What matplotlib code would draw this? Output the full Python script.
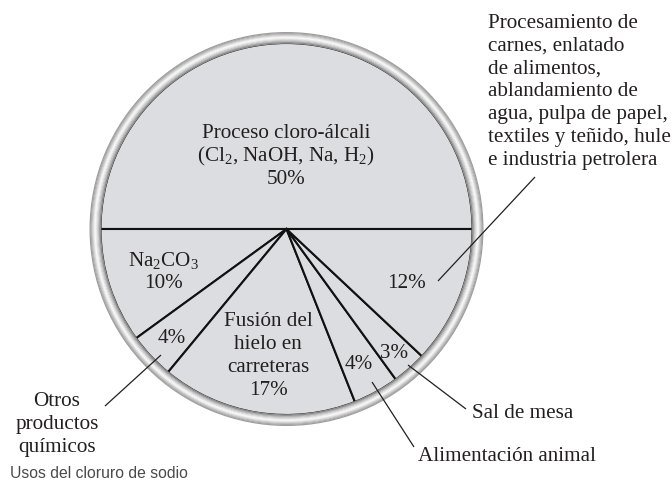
import matplotlib; matplotlib.use("Agg")
import matplotlib.pyplot as plt
from matplotlib.patches import Wedge
import numpy as np

plt.rcParams["mathtext.fontset"] = "custom"
plt.rcParams["mathtext.rm"] = "Liberation Serif"
plt.rcParams["mathtext.it"] = "Liberation Serif:italic"

# data: share of sodium chloride uses (%), in drawing order from the right, going up and round
uses = ["Proceso cloro-álcali", "Na2CO3", "Otros productos químicos",
        "Fusión del hielo en carreteras", "Alimentación animal", "Sal de mesa",
        "Procesamiento de carnes"]
shares = [50, 10, 4, 17, 4, 3, 12]

SERIF = "Liberation Serif"
INK = "#231f20"
FILL = "#dcdde0"

fig = plt.figure(figsize=(6.72, 4.89), dpi=100)
ax = fig.add_axes([0, 0, 1, 1])

cx, cy, r_in, r_out = 286.5, 230.0, 185.5, 197.0
ax.pie(shares, center=(cx, cy), radius=r_in + 0.5, startangle=0, counterclock=False,
       colors=[FILL] * len(shares),
       wedgeprops=dict(edgecolor="#111111", linewidth=1.5))

# grey bevelled rim, drawn as thin rings from inside to outside
rim_grey = [0.56, 0.62, 0.70, 0.78, 0.86, 0.93, 0.97, 0.92, 0.84, 0.76, 0.68, 0.62]
edges = np.linspace(r_in, r_out, len(rim_grey) + 1)
for g, a, b in zip(rim_grey, edges[:-1], edges[1:]):
    ax.add_patch(Wedge((cx, cy), b, 0, 360, width=b - a + 0.3,
                       facecolor=(g, g, g), edgecolor="none", zorder=3))

ax.set_xlim(0, 672); ax.set_ylim(489, 0)
ax.set_aspect("equal")
ax.axis("off")

def lines(x, y0, rows, ha="center", step=23.0):
    for i, t in enumerate(rows):
        ax.text(x, y0 + i * step, t, ha=ha, va="baseline", fontsize=15.2,
                family=SERIF, color=INK, zorder=5)

pct = [f"{v}%" for v in shares]
lines(286, 138, ["Proceso cloro-álcali", r"(Cl$_2$, NaOH, Na, H$_2$)", pct[0]])
lines(163, 266, [r"Na$_2$CO$_3$", pct[1]], step=22)
lines(172, 343, [pct[2]])
lines(268, 326, ["Fusión del", "hielo en", "carreteras", pct[3]])
lines(359, 369, [pct[4]])
lines(394, 358, [pct[5]])
lines(406, 288, [pct[6]])

# outside labels
lines(488, 28, ["Procesamiento de", "carnes, enlatado", "de alimentos,",
                "ablandamiento de", "agua, pulpa de papel,",
                "textiles y teñido, hule", "e industria petrolera"], ha="left", step=22.8)
lines(57, 406, ["Otros", "productos", "químicos"])
lines(472, 418, ["Sal de mesa"], ha="left")
lines(418, 461, ["Alimentación animal"], ha="left")

# leader lines
leaders = [((438, 282), (535, 178)),
           ((161, 356), (105, 407)),
           ((408, 366), (466, 410)),
           ((372, 383), (414, 448))]
for (x0, y0), (x1, y1) in leaders:
    ax.plot([x0, x1], [y0, y1], color=INK, lw=0.9, zorder=6, solid_capstyle="butt")

ax.text(10, 478, "Usos del cloruro de sodio", ha="left", va="baseline",
        fontsize=11.3, family="Liberation Sans", color="#4a4a4a")

fig.savefig("out.png", dpi=100)
